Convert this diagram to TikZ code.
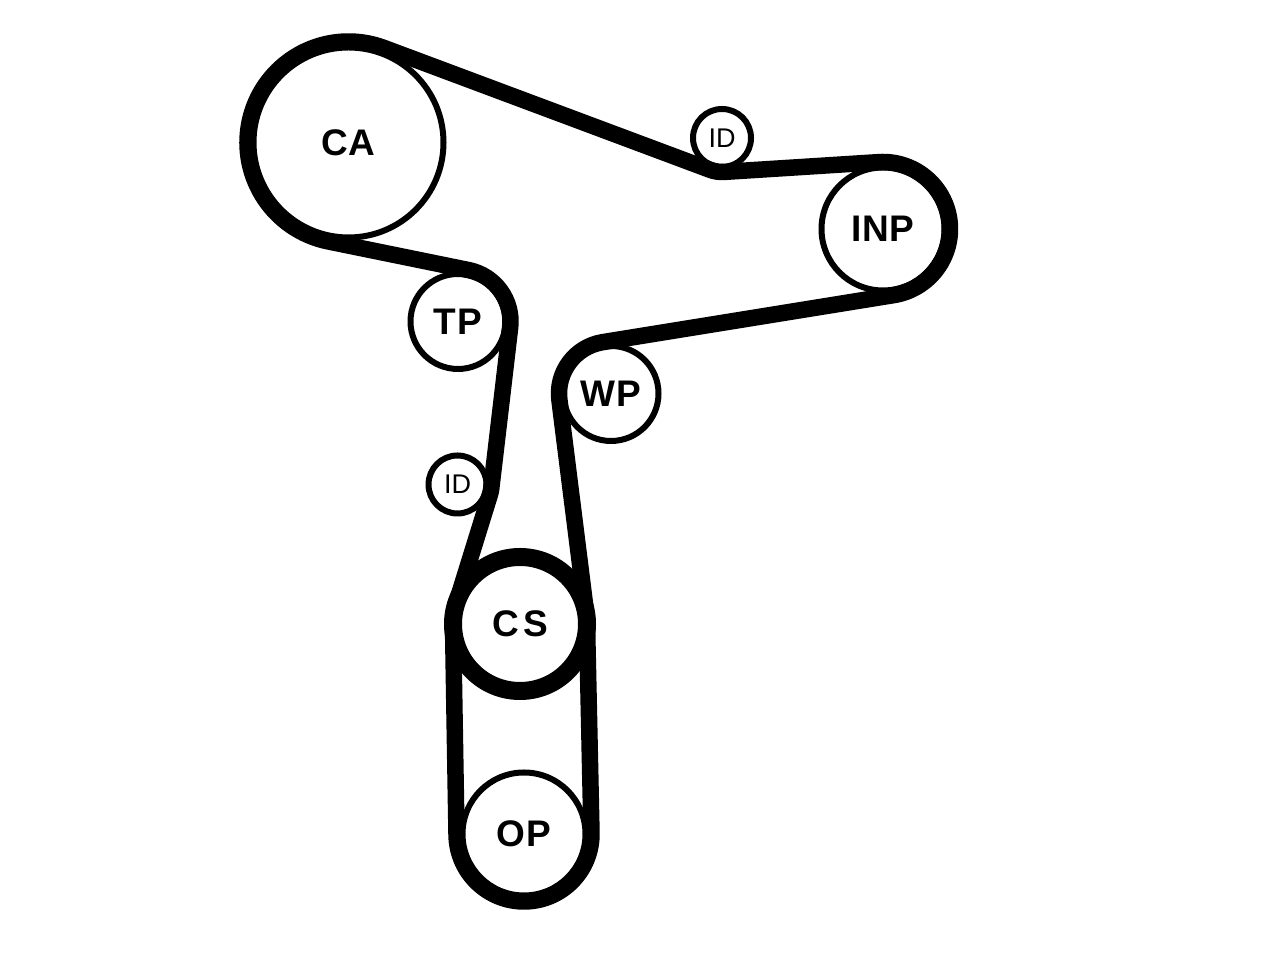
\documentclass[tikz,border=0pt]{standalone}
\usepackage{fontspec}
\setmainfont{Liberation Sans}
\usetikzlibrary{calc}
\tikzset{
  x=1pt,y=1pt,
  pulley/.style={circle,draw=black,line width=6pt,fill=white,inner sep=0pt,outer sep=0pt,font=\fontsize{37}{37}\selectfont\bfseries\addfontfeature{LetterSpace=2}},
  idler/.style={circle,draw=black,line width=6pt,fill=white,inner sep=0pt,outer sep=0pt,minimum size=58pt,font=\fontsize{27}{27}\selectfont},
  belt/.style={draw=black,line width=16.5pt,line join=round,line cap=round}
}
\begin{document}
\begin{tikzpicture}
\useasboundingbox (0,0) rectangle (1280,960);
\fill[white] (0,0) rectangle (1280,960);
\coordinate (cCA) at (348.5,817.5);
\coordinate (cIDa) at (722,822);
\coordinate (cINP) at (883,731);
\coordinate (cWP) at (611,566.5);
\coordinate (cCS) at (520,336);
\coordinate (cOP) at (524,126);
\coordinate (cIDb) at (457.5,475.5);
\coordinate (cTP) at (458,638.5);
\node[pulley,minimum size=190pt] (CA) at (cCA) {CA};
\node[pulley,minimum size=123pt] (INP) at (cINP) {INP};
\node[pulley,minimum size=95pt] (WP) at (cWP) {WP};
\node[pulley,minimum size=95pt] (TP) at (cTP) {TP};
\node[pulley,minimum size=134pt,line width=18pt] (CS) at (cCS) {\addfontfeature{LetterSpace=11}CS};
\node[pulley,minimum size=123pt] (OP) at (cOP) {OP};
\node[idler] (IDa) at (cIDa) {ID};
\node[idler] (IDb) at (cIDb) {ID};
\draw[belt] ($(CA.center)+(69.5:101)$) -- ($(IDa.center)+(249.5:34)$)
  arc[start angle=249.5,end angle=273.62,radius=34]
  -- ($(INP.center)+(93.62:67)$) arc[start angle=93.62,end angle=-80.82,radius=67]
  -- ($(WP.center)+(99.18:52)$) arc[start angle=99.18,end angle=187.15,radius=52]
  -- ($(CS.center)+(7.15:67)$) arc[start angle=7.15,end angle=1.09,radius=67]
  -- ($(OP.center)+(1.09:67.5)$) arc[start angle=1.09,end angle=-178.91,radius=67.5]
  -- ($(CS.center)+(181.09:67)$) arc[start angle=181.09,end angle=162.79,radius=67]
  -- ($(IDb.center)+(-17.21:34)$) arc[start angle=-17.21,end angle=-6.7,radius=34]
  -- ($(TP.center)+(-6.7:52.5)$) arc[start angle=-6.7,end angle=78.47,radius=52.5]
  -- ($(CA.center)+(258.47:101)$) arc[start angle=258.47,end angle=69.5,radius=101] -- cycle;
\end{tikzpicture}
\end{document}
